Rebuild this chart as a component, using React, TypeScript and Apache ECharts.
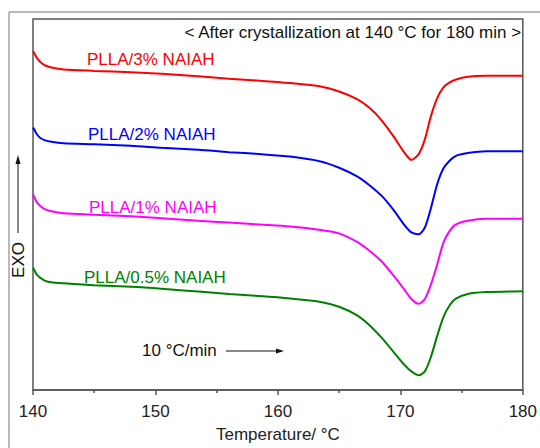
import React, { useEffect, useRef } from "react";
import * as echarts from "echarts";

// Temperature grid (°C) shared by all DSC heating scans
const temperature = [
  140, 140.15, 140.3, 140.6, 141, 141.5, 142.5, 145, 148, 150.5, 153.5, 156, 158.5,
  161, 163.5, 165, 166.5, 167.5, 168.5, 169.5, 170.3, 170.9, 171.5, 172, 172.5,
  173, 173.5, 174, 174.5, 175.5, 177, 180,
];

// Heat flow (arbitrary units, vertically offset per sample)
const pllaNaiah3 = [
  34.6, 34.3, 33.95, 33.5, 33.15, 32.95, 32.75, 32.6, 32.45, 32.3, 32.05, 31.8, 31.6,
  31.35, 31.0, 30.5, 29.7, 28.8, 27.5, 25.8, 24.3, 23.5, 24.1, 25.6, 28.0, 29.8,
  30.9, 31.4, 31.7, 32.0, 32.1, 32.1,
];
const pllaNaiah2 = [
  26.8, 26.5, 26.15, 25.75, 25.5, 25.35, 25.2, 25.1, 24.95, 24.75, 24.55, 24.3, 24.1,
  23.85, 23.35, 22.7, 21.8, 20.9, 19.8, 18.3, 16.9, 16.1, 15.9, 16.6, 18.6, 21.0,
  22.6, 23.4, 23.9, 24.2, 24.4, 24.4,
];
const pllaNaiah1 = [
  20.0, 19.6, 19.2, 18.8, 18.45, 18.25, 18.05, 17.9, 17.75, 17.55, 17.3, 17.1, 16.9,
  16.7, 16.35, 16.0, 15.1, 14.2, 13.1, 11.6, 10.3, 9.3, 8.8, 9.3, 10.8, 12.8, 15.0,
  16.2, 16.9, 17.3, 17.5, 17.5,
];
const pllaNaiah05 = [
  12.5, 12.15, 11.8, 11.45, 11.15, 11.0, 10.9, 10.7, 10.55, 10.35, 10.05, 9.8, 9.6,
  9.35, 9.0, 8.5, 7.6, 6.6, 5.3, 3.8, 2.6, 1.9, 1.5, 1.9, 3.4, 5.5, 7.4, 8.6, 9.3,
  9.8, 10.0, 10.1,
];

const seriesNames = ["PLLA/3% NAIAH", "PLLA/2% NAIAH", "PLLA/1% NAIAH", "PLLA/0.5% NAIAH"];
const seriesValues = [pllaNaiah3, pllaNaiah2, pllaNaiah1, pllaNaiah05];
const seriesColors = ["#ff0000", "#0000ff", "#ff00ff", "#008000"];
const labelPos = [
  [87, 61],
  [88, 136],
  [89, 209],
  [84, 279],
];

const FONT = "'Liberation Sans', Arial, sans-serif";
const AXIS = "#555555";

export default function App() {
  const ref = useRef<HTMLDivElement>(null);

  useEffect(() => {
    if (!ref.current) return;
    const chart = echarts.init(ref.current, undefined, { renderer: "svg" });

    const series = seriesValues.map((vals, i) => ({
      name: seriesNames[i],
      type: "line",
      data: temperature.map((t, j) => [t, vals[j]]),
      smooth: 0.25,
      showSymbol: false,
      lineStyle: { color: seriesColors[i], width: 2 },
      itemStyle: { color: seriesColors[i] },
    }));

    const labels = seriesNames.map((name, i) => ({
      type: "text",
      left: labelPos[i][0],
      top: labelPos[i][1] - 10,
      style: { text: name, fill: seriesColors[i], font: `17px ${FONT}` },
    }));

    chart.setOption({
      animation: false,
      backgroundColor: "#ffffff",
      grid: {
        left: 33,
        right: 15,
        top: 19,
        bottom: 50,
        show: true,
        borderColor: AXIS,
        borderWidth: 1.5,
      },
      xAxis: {
        type: "value",
        min: 140,
        max: 180,
        interval: 10,
        name: "Temperature/ °C",
        nameLocation: "middle",
        nameGap: 36,
        nameTextStyle: { fontFamily: FONT, fontSize: 17, color: "#222" },
        axisLine: { show: true, lineStyle: { color: AXIS, width: 1.5 } },
        axisTick: { show: true, inside: false, length: 5, lineStyle: { color: AXIS, width: 1.5 } },
        minorTick: { show: true, splitNumber: 2, length: 3, lineStyle: { color: AXIS, width: 1.5 } },
        axisLabel: { fontFamily: FONT, fontSize: 17, color: "#222", margin: 13 },
        splitLine: { show: false },
      },
      yAxis: {
        type: "value",
        min: 0,
        max: 37.9,
        show: false,
        splitLine: { show: false },
      },
      series,
      graphic: [
        // outer frame
        {
          type: "rect",
          shape: { x: 9, y: 12, width: 560, height: 480 },
          style: { fill: "none", stroke: "#777", lineWidth: 1 },
          silent: true,
          z: -1,
        },
        {
          type: "text",
          right: 18,
          top: 24,
          style: {
            text: "< After crystallization at 140 °C for 180 min >",
            fill: "#111",
            font: `17px ${FONT}`,
          },
        },
        ...labels,
        {
          type: "text",
          left: 142,
          top: 342,
          style: { text: "10 °C/min", fill: "#111", font: `17px ${FONT}` },
        },
        {
          type: "line",
          shape: { x1: 226, y1: 351, x2: 278, y2: 351 },
          style: { stroke: "#111", lineWidth: 1 },
        },
        {
          type: "polygon",
          shape: { points: [[276, 348.5], [284, 351], [276, 353.5]] },
          style: { fill: "#111" },
        },
        // EXO with upward arrow
        {
          type: "text",
          x: 18,
          y: 260,
          rotation: Math.PI / 2,
          style: {
            text: "EXO",
            fill: "#111",
            font: `17px ${FONT}`,
            align: "center",
            verticalAlign: "middle",
          },
        },
        {
          type: "line",
          shape: { x1: 18, y1: 233, x2: 18, y2: 162 },
          style: { stroke: "#111", lineWidth: 1 },
        },
        {
          type: "polygon",
          shape: { points: [[15.5, 164], [18, 155], [20.5, 164]] },
          style: { fill: "#111" },
        },
      ],
    });

    return () => chart.dispose();
  }, []);

  return (
    <div
      ref={ref}
      style={{ position: "fixed", left: 0, top: 0, width: 540, height: 448, background: "#fff" }}
    />
  );
}
